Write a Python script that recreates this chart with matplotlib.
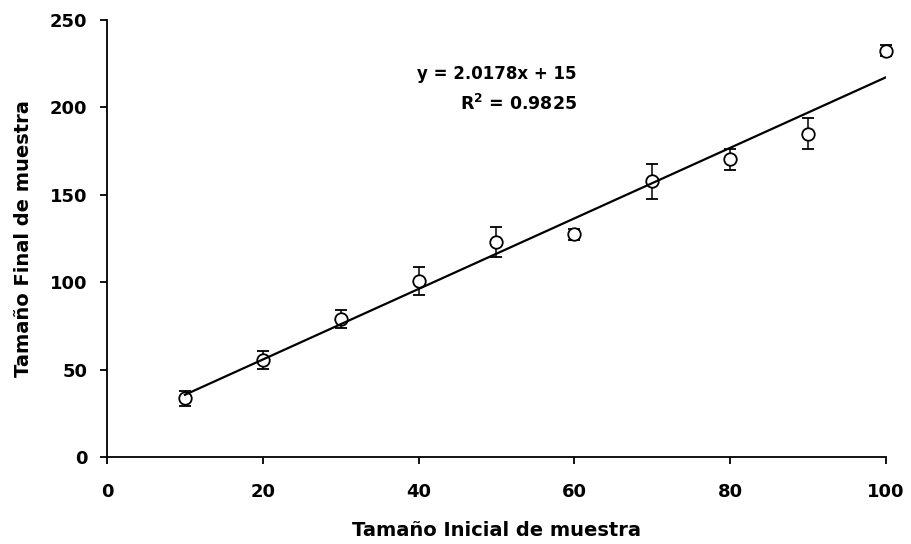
import numpy as np
import matplotlib
matplotlib.use("Agg")
import matplotlib.pyplot as plt

# datos
tamano_inicial = [10, 20, 30, 40, 50, 60, 70, 80, 90, 100]
tamano_final = [33.5, 55.4, 79.0, 100.6, 122.9, 127.4, 157.7, 170.3, 185.0, 232.6]
error = [4.5, 5.0, 5.0, 8.0, 8.5, 3.0, 10.0, 6.0, 9.0, 3.0]

ecuacion = "y = 2.0178x + 15"
r2 = "R$^{2}$ = 0.9825"

plt.rcParams['font.family'] = ['DejaVu Sans']
plt.rcParams['font.weight'] = 'bold'
plt.rcParams['mathtext.default'] = 'bf'

fig = plt.figure(figsize=(9.11, 5.44), dpi=100)
ax = fig.add_axes([0.1175, 0.16, 0.855, 0.803])

# linea de tendencia
pend, inter = np.polyfit(tamano_inicial, tamano_final, 1)
xs = np.array([tamano_inicial[0], tamano_inicial[-1]])
ax.plot(xs, pend * xs + inter, color="black", lw=1.6, zorder=3)

ax.errorbar(tamano_inicial, tamano_final, yerr=error, fmt="o", color="black",
            mfc="white", mec="black", ms=9, mew=1.3, elinewidth=1.1,
            capsize=4, capthick=1.1, zorder=2, clip_on=False)

ax.text(60.3, 219, ecuacion, ha="right", va="center", fontsize=12, fontweight="bold")
ax.text(60.3, 202, r2, ha="right", va="center", fontsize=12.5, fontweight="bold")

ax.set_xlim(0, 100)
ax.set_ylim(0, 250)
ax.set_xticks([0, 20, 40, 60, 80, 100])
ax.set_yticks([0, 50, 100, 150, 200, 250])
ax.spines["top"].set_visible(False)
ax.spines["right"].set_visible(False)
ax.spines["left"].set_linewidth(1.3)
ax.spines["bottom"].set_linewidth(1.3)
ax.tick_params(direction="out", length=5, width=1.3, labelsize=13, pad=14)
ax.tick_params(axis="y", pad=9)
for lab in ax.get_xticklabels() + ax.get_yticklabels():
    lab.set_fontweight("bold")

ax.set_xlabel("Tamaño Inicial de muestra", fontsize=14, fontweight="bold", labelpad=14)
ax.set_ylabel("Tamaño Final de muestra", fontsize=14, fontweight="bold", labelpad=12)

fig.savefig("out.png", dpi=100)
